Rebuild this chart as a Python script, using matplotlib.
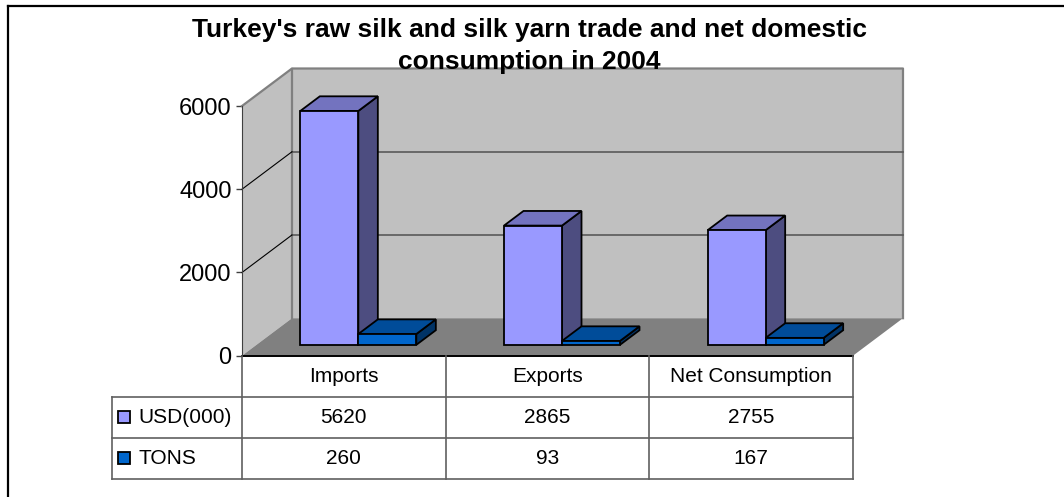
import matplotlib.pyplot as plt
from matplotlib.patches import Polygon

plt.rcParams['font.family'] = ['Liberation Sans', 'DejaVu Sans']

# data
categories = ['Imports', 'Exports', 'Net Consumption']
series_names = ['USD(000)', 'TONS']
usd = [5620, 2865, 2755]
tons = [260, 93, 167]
yticks = [0, 2000, 4000, 6000]

# face colours per series: front, top, side
colors = [('#9999FF', '#7373BF', '#4D4D80'),
          ('#0066CC', '#004C99', '#003366')]

W, H = 1064, 497


def px_box(l, t, r, b):
    return [l / W, 1 - b / H, (r - l) / W, (b - t) / H]


fig = plt.figure(figsize=(W / 100, H / 100), dpi=100)

# outer chart frame
fig.add_artist(plt.Line2D([8 / W, 8 / W], [0, 1 - 6 / H], color='black', lw=1.6))
fig.add_artist(plt.Line2D([8 / W, 1], [1 - 6 / H, 1 - 6 / H], color='black', lw=1.6))

left, top, right, bottom = 242, 106, 853, 355.7
ax = fig.add_axes(px_box(left, top, right, bottom))
ax.set_xlim(-0.5, 2.5)
ax.set_ylim(0, 6000)
x0, x1 = ax.get_xlim()
ymax = ax.get_ylim()[1]

# depth of the 3d box in data units
dx = 50 / (right - left) * (x1 - x0)
dy = 37.5 / (bottom - top) * ymax

wall = '#C0C0C0'
edge = '#808080'
# back wall, left wall, floor
ax.add_patch(Polygon([(x0 + dx, dy), (x1 + dx, dy), (x1 + dx, ymax + dy), (x0 + dx, ymax + dy)],
                     closed=True, fc=wall, ec='none', clip_on=False, zorder=1))
ax.add_patch(Polygon([(x0, 0), (x0 + dx, dy), (x0 + dx, ymax + dy), (x0, ymax)],
                     closed=True, fc=wall, ec='none', clip_on=False, zorder=1))
ax.add_patch(Polygon([(x0, 0), (x1, 0), (x1 + dx, dy), (x0 + dx, dy)],
                     closed=True, fc='#808080', ec='none', clip_on=False, zorder=1))
ax.plot([x0, x0 + dx, x1 + dx, x1 + dx], [ymax, ymax + dy, ymax + dy, dy],
        color=edge, lw=1.6, clip_on=False, zorder=2)
ax.plot([x0 + dx, x0 + dx], [dy, ymax + dy], color=edge, lw=1.6, clip_on=False, zorder=2)

# gridlines on back wall and left wall
for v in yticks[1:-1]:
    ax.plot([x0 + dx, x1 + dx], [v + dy, v + dy], color='#595959', lw=1.2,
            clip_on=False, zorder=2)
    ax.plot([x0, x0 + dx], [v, v + dy], color='black', lw=0.8, clip_on=False, zorder=2)

# 3d bars
w = 58 / (right - left) * (x1 - x0)
f0, fd = 0.29, 0.39
ox, oy = f0 * dx, f0 * dy
bx, by = fd * dx, fd * dy
for i in range(len(categories)):
    for s, vals in enumerate([usd, tons]):
        v = vals[i]
        xl = i - w + s * w + ox
        xr = xl + w
        front, topc, side = colors[s]
        kw = dict(closed=True, ec='black', lw=1.3, clip_on=False, zorder=3 + i * 2 + s)
        ax.add_patch(Polygon([(xr, oy), (xr + bx, oy + by), (xr + bx, v + oy + by), (xr, v + oy)],
                             fc=side, **kw))
        ax.add_patch(Polygon([(xl, v + oy), (xr, v + oy), (xr + bx, v + oy + by), (xl + bx, v + oy + by)],
                             fc=topc, **kw))
        ax.add_patch(Polygon([(xl, oy), (xr, oy), (xr, v + oy), (xl, v + oy)],
                             fc=front, **kw))

for sp in ['top', 'right', 'bottom']:
    ax.spines[sp].set_visible(False)
ax.spines['left'].set_color('#404040')
ax.spines['left'].set_zorder(2)
ax.set_xticks([])
ax.set_yticks(yticks)
ax.tick_params(axis='y', length=4.5, width=1, color='#404040', pad=3, labelsize=17)
ax.patch.set_visible(False)

# title
fig.text(529.5 / W, 1 - 36.7 / H, "Turkey's raw silk and silk yarn trade and net domestic",
         ha='center', va='baseline', fontsize=19, fontweight='bold', zorder=10)
fig.text(529.5 / W, 1 - 69.5 / H, "consumption in 2004",
         ha='center', va='baseline', fontsize=19, fontweight='bold', zorder=10)

# data table under the plot
tab = fig.add_axes(px_box(left, bottom, right, 479))
tab.set_xlim(x0, x1)
tab.set_ylim(3, 0)
tab.axis('off')
leg_x = x0 - 130 / (right - left) * (x1 - x0)
line = dict(color='#606060', lw=1.2, clip_on=False)
tab.plot([x0, x1], [0, 0], color='black', lw=1.4, clip_on=False)
for r in [1, 2, 3]:
    tab.plot([leg_x, x1], [r, r], **line)
for c in [x0 + k for k in range(len(categories) + 1)]:
    tab.plot([c, c], [0, 3], **line)
tab.plot([leg_x, leg_x], [1, 3], **line)

for i, cat in enumerate(categories):
    tab.text(i, 0.5, cat, ha='center', va='center', fontsize=15)
    tab.text(i, 1.5, str(usd[i]), ha='center', va='center', fontsize=15)
    tab.text(i, 2.5, str(tons[i]), ha='center', va='center', fontsize=15)

px = (x1 - x0) / (right - left)
for s, name in enumerate(series_names):
    tab.plot([x0 - (left - 123.5) * px], [1.5 + s], marker='s', ms=9, mfc=colors[s][0],
             mec='black', mew=1.3, clip_on=False)
    tab.text(x0 - (left - 138) * px, 1.5 + s, name, ha='left', va='center', fontsize=15)

fig.savefig('out.png', dpi=100)
